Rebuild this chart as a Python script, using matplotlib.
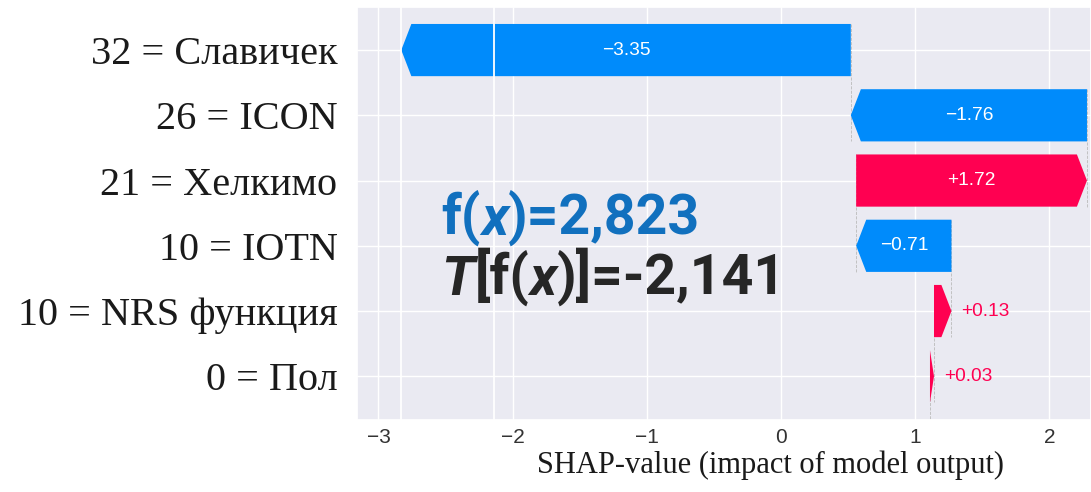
import matplotlib
matplotlib.use("Agg")
import matplotlib.pyplot as plt
from matplotlib.patches import FancyArrow
import seaborn as sns

# SHAP waterfall data (top row first)
features = ["32 = Славичек", "26 = ICON", "21 = Хелкимо", "10 = IOTN",
            "10 = NRS функция", "0 = Пол"]
shap_values = [-3.35, -1.76, 1.72, -0.71, 0.13, 0.03]
base_value = 1.11
marker_value = -2.14
fx_text = "2,823"
base_text = "-2,141"
xticks = [-3, -2, -1, 0, 1, 2]

BLUE = "#008BFB"
RED = "#FF0051"

sns.set_theme(style="darkgrid")

fig = plt.figure(figsize=(10.91, 4.92), dpi=100)
ax = fig.add_axes([357 / 1091, 72 / 492, 734 / 1091, 413 / 492])

n = len(features)
rows = list(range(n))

# bar start positions, stacking upward from the base value
starts = []
acc = base_value
for v in reversed(shap_values):
    starts.append(acc)
    acc += v
starts = starts[::-1]
fx = acc

bar_h = 0.8
for i, (s, v) in enumerate(zip(starts, shap_values)):
    color = RED if v > 0 else BLUE
    hl = min(0.075, abs(v))
    arr = FancyArrow(s, i, v, 0, width=bar_h, head_width=bar_h, head_length=hl,
                     length_includes_head=True, color=color, linewidth=0, zorder=2)
    ax.add_patch(arr)
    label = ("+" if v > 0 else "\u2212") + f"{abs(v):.2f}"
    if abs(v) > 0.3:
        ax.text(s + v / 2, i, label, ha="center", va="center", color="white",
                fontsize=13.8, family="Liberation Sans", zorder=4)
    else:
        ax.annotate(label, xy=(s + v, i), xytext=(7, 0), textcoords="offset points",
                    ha="left", va="center", color=color, fontsize=13.8,
                    family="Liberation Sans", zorder=4)
    # dashed connector
    if i < n - 1:
        ax.plot([s, s], [i - 0.4, i + 1.4], color="#bbbbbb", ls="--", lw=0.6, zorder=1)

ax.plot([base_value, base_value], [n - 1, n - 0.33], color="#bbbbbb", ls="--", lw=0.6, zorder=1)

# white marker lines (from twin axes)
ax.axvline(fx, color="white", lw=1.3, zorder=3)
ax.axvline(marker_value, color="white", lw=1.3, zorder=3)

ax.set_xlim(-3.16, 2.31)
ax.set_ylim(n - 0.33, -0.66)
ax.set_yticks(rows)
ax.set_yticklabels(features, family="Liberation Serif", fontsize=29, color="#1a1a1a")
ax.set_xticks(xticks)
ax.set_xticklabels([str(t).replace("-", "\u2212") for t in xticks],
                   family="Liberation Sans", fontsize=15, color="#333333")
ax.tick_params(axis="y", length=0, pad=14)
ax.tick_params(axis="x", length=0, pad=6)
ax.set_xlabel("SHAP-value (impact of model output)", family="Liberation Serif",
              fontsize=22, color="#1a1a1a")
ax.xaxis.set_label_coords(0.563, -0.075)


def rich(x, y, parts, color):
    t = None
    for s, style in parts:
        kw = dict(fontsize=40, color=color, family="Roboto", fontweight="bold",
                  fontstyle=style, zorder=5)
        if t is None:
            t = ax.text(x, y, s, ha="left", va="center", **kw)
        else:
            t = ax.annotate(s, xy=(1, 0), xycoords=t, ha="left", va="bottom", **kw)


rich(-2.53, 2.57, [("f(", "normal"), ("x", "italic"), (")=" + fx_text, "normal")], "#1170BE")
rich(-2.53, 3.52, [("T", "italic"), ("[f(", "normal"), ("x", "italic"),
                   (")]=" + base_text, "normal")], "#262626")

fig.savefig("out.png", dpi=100)
